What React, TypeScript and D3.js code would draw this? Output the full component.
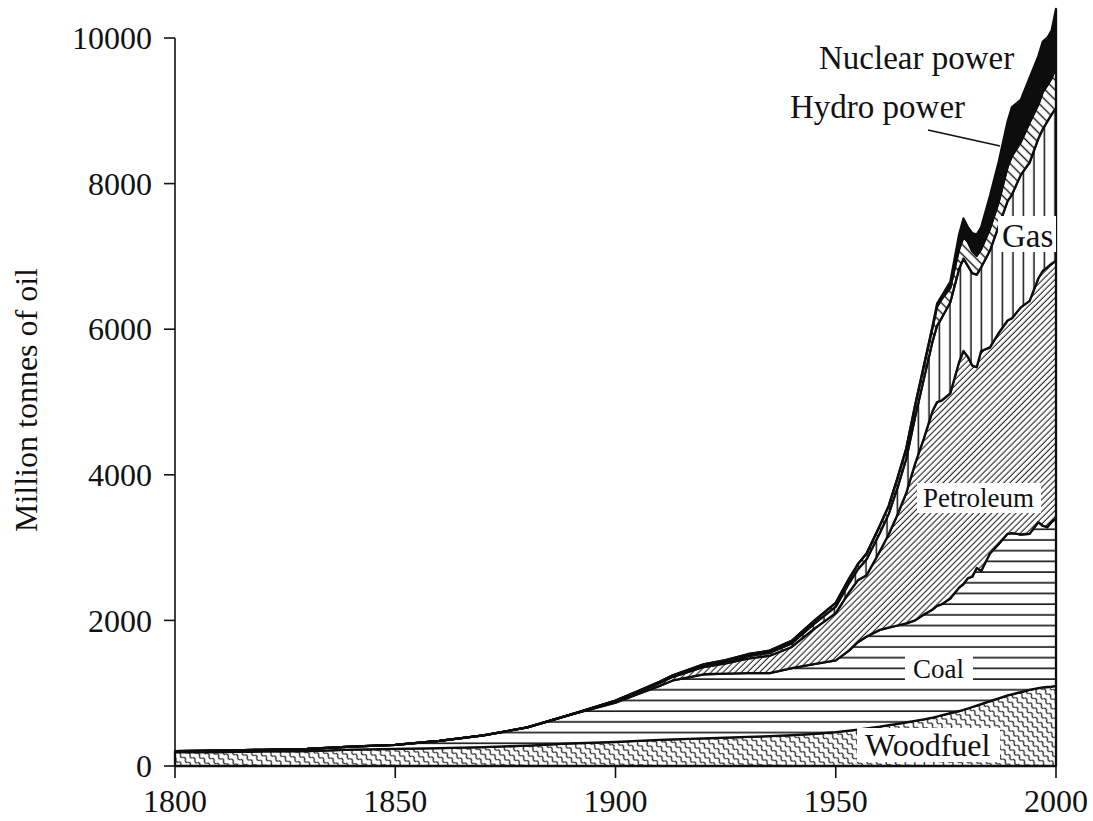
import React from 'react';
import * as d3 from 'd3';

const years = [1800, 1810, 1820, 1830, 1840, 1850, 1860, 1870, 1880, 1890,
  1900, 1905, 1910, 1913, 1920, 1925, 1930, 1935, 1940, 1945,
  1950, 1953, 1955, 1957, 1960, 1962, 1964, 1966, 1968,
  1970, 1972, 1973, 1974, 1976, 1978, 1979,
  1980, 1981, 1982, 1983, 1985, 1987, 1989,
  1990, 1992, 1994, 1996, 1997, 1998, 1999, 2000];

const woodfuel = [190, 192, 200, 205, 225, 235, 245, 260, 280, 310,
  330, 345, 360, 365, 380, 390, 400, 410, 425, 440,
  465, 485, 500, 515, 540, 560, 580, 600, 620,
  640, 665, 680, 695, 725, 755, 770,
  790, 810, 830, 850, 890, 930, 970,
  985, 1015, 1045, 1070, 1080, 1085, 1090, 1100];

const coal = [15, 18, 22, 30, 40, 55, 100, 160, 250, 400,
  540, 640, 740, 810, 880, 880, 875, 865, 920, 960,
  985, 1100, 1200, 1265, 1330, 1340, 1350, 1360, 1380,
  1440, 1485, 1520, 1525, 1575, 1695, 1730,
  1790, 1790, 1890, 1830, 2030, 2120, 2220,
  2215, 2165, 2145, 2280, 2220, 2195, 2260, 2300];

const petroleum = [0, 0, 0, 0, 0, 0, 0, 0, 0, 0,
  20, 30, 40, 50, 100, 140, 200, 240, 290, 480,
  650, 800, 850, 840, 1080, 1280, 1520, 1790, 2150,
  2420, 2730, 2800, 2800, 2820, 3100, 3200,
  3040, 2900, 2760, 3020, 2830, 2900, 2930,
  2950, 3120, 3200, 3350, 3500, 3570, 3550, 3540];

const gas = [0, 0, 0, 0, 0, 0, 0, 0, 0, 0,
  5, 7, 10, 12, 20, 25, 35, 40, 50, 70,
  90, 125, 150, 220, 250, 280, 370, 470, 640,
  820, 960, 1050, 1130, 1250, 1280, 1270,
  1250, 1270, 1270, 1150, 1330, 1470, 1640,
  1700, 1820, 1900, 1920, 1950, 2000, 2050, 2100];

const hydro = [0, 0, 0, 0, 0, 0, 0, 0, 0, 0,
  3, 5, 8, 10, 15, 20, 25, 30, 35, 40,
  50, 60, 70, 80, 100, 110, 130, 140, 160,
  170, 190, 260, 260, 200, 270, 300,
  330, 300, 260, 250, 300, 330, 470,
  530, 450, 550, 470, 510, 500, 500, 560];

const nuclear = [0, 0, 0, 0, 0, 0, 0, 0, 0, 0,
  0, 0, 0, 0, 0, 0, 0, 0, 0, 0,
  0, 0, 0, 0, 0, 0, 0, 0, 0,
  10, 20, 40, 40, 80, 200, 250,
  200, 250, 290, 300, 450, 550, 620,
  670, 580, 610, 660, 690, 650, 650, 800];

const xTicks = [1800, 1850, 1900, 1950, 2000];
const yTicks = [0, 2000, 4000, 6000, 8000, 10000];

const keys = ['woodfuel', 'coal', 'petroleum', 'gas', 'hydro', 'nuclear'];
const fills: Record<string, string> = {
  woodfuel: 'url(#pWood)',
  coal: 'url(#pCoal)',
  petroleum: 'url(#pPet)',
  gas: 'url(#pGas)',
  hydro: 'url(#pHydro)',
  nuclear: '#0d0d0d',
};

const FONT = '"Liberation Serif", "Times New Roman", Times, serif';

export default function App() {
  const x = d3.scaleLinear().domain([1800, 2000]).range([175, 1056]);
  const y = d3.scaleLinear().domain([0, 10000]).range([766, 38]);

  const rows = years.map((yr, i) => ({
    year: yr,
    woodfuel: woodfuel[i],
    coal: coal[i],
    petroleum: petroleum[i],
    gas: gas[i],
    hydro: hydro[i],
    nuclear: nuclear[i],
  }));
  const series = d3.stack<any>().keys(keys)(rows);
  const area = d3
    .area<any>()
    .x((d: any) => x(d.data.year))
    .y0((d: any) => y(d[0]))
    .y1((d: any) => y(d[1]));

  return (
    <svg
      width={1093}
      height={821}
      style={{ position: 'absolute', left: 0, top: 0, background: '#fff' }}
    >
      <defs>
        <pattern id="pWood" patternUnits="userSpaceOnUse" width={6.5} height={7} patternTransform="rotate(-45)">
          <rect width={6.5} height={7} fill="#fff" />
          <path d="M3.25,0 Q5.8,1.75 3.25,3.5 Q0.7,5.25 3.25,7" fill="none" stroke="#111" strokeWidth={1.1} />
        </pattern>
        <pattern id="pCoal" patternUnits="userSpaceOnUse" width={20} height={10.7}>
          <rect width={20} height={10.7} fill="#fff" />
          <line x1={0} x2={20} y1={5} y2={5} stroke="#111" strokeWidth={1.6} />
        </pattern>
        <pattern id="pPet" patternUnits="userSpaceOnUse" width={4.3} height={10} patternTransform="rotate(45)">
          <rect width={4.3} height={10} fill="#fff" />
          <line x1={2} x2={2} y1={0} y2={10} stroke="#111" strokeWidth={1} />
        </pattern>
        <pattern id="pGas" patternUnits="userSpaceOnUse" width={10.5} height={20}>
          <rect width={10.5} height={20} fill="#fff" />
          <line x1={5} x2={5} y1={0} y2={20} stroke="#111" strokeWidth={1.5} />
        </pattern>
        <pattern id="pHydro" patternUnits="userSpaceOnUse" width={7} height={10} patternTransform="rotate(-45)">
          <rect width={7} height={10} fill="#fff" />
          <line x1={3.5} x2={3.5} y1={0} y2={10} stroke="#111" strokeWidth={1.4} />
        </pattern>
      </defs>

      {series.map((s: any) => (
        <path
          key={s.key}
          d={area(s) || ''}
          fill={fills[s.key]}
          stroke="#0d0d0d"
          strokeWidth={2.3}
          strokeLinejoin="round"
        />
      ))}

      {/* axes */}
      <line x1={175} x2={175} y1={y(10000)} y2={y(0)} stroke="#111" strokeWidth={1.6} />
      <line x1={175} x2={1056} y1={y(0)} y2={y(0)} stroke="#111" strokeWidth={1.6} />
      {yTicks.map((t) => (
        <g key={'y' + t}>
          <line x1={164} x2={175} y1={y(t)} y2={y(t)} stroke="#111" strokeWidth={1.6} />
          <text
            x={152}
            y={y(t)}
            dy="0.35em"
            textAnchor="end"
            fontFamily={FONT}
            fontSize={32}
            fill="#111"
          >
            {t}
          </text>
        </g>
      ))}
      {xTicks.map((t) => (
        <g key={'x' + t}>
          <line x1={x(t)} x2={x(t)} y1={766} y2={778} stroke="#111" strokeWidth={1.6} />
          <text x={x(t)} y={812} textAnchor="middle" fontFamily={FONT} fontSize={32} fill="#111">
            {t}
          </text>
        </g>
      ))}
      <text
        transform="translate(37,400) rotate(-90)"
        textAnchor="middle"
        fontFamily={FONT}
        fontSize={32}
        fill="#111"
      >
        Million tonnes of oil
      </text>

      {/* labels */}
      <text x={819} y={69} fontFamily={FONT} fontSize={33} fill="#111">Nuclear power</text>
      <text x={790} y={118} fontFamily={FONT} fontSize={33} fill="#111">Hydro power</text>
      <line x1={928} y1={130} x2={1000} y2={146} stroke="#111" strokeWidth={1.5} />

      <rect x={998} y={216} width={58} height={36} fill="#fff" />
      <text x={1002} y={247} fontFamily={FONT} fontSize={33} fill="#111">Gas</text>

      <rect x={917} y={483} width={124} height={30} fill="#fff" />
      <text x={923} y={507} fontFamily={FONT} fontSize={27} fill="#111">Petroleum</text>

      <rect x={905} y={651} width={68} height={34} fill="#fff" />
      <text x={913} y={678} fontFamily={FONT} fontSize={27} fill="#111">Coal</text>

      <rect x={857} y={728} width={143} height={34} fill="#fff" />
      <text x={865} y={756} fontFamily={FONT} fontSize={32} fill="#111">Woodfuel</text>
    </svg>
  );
}
